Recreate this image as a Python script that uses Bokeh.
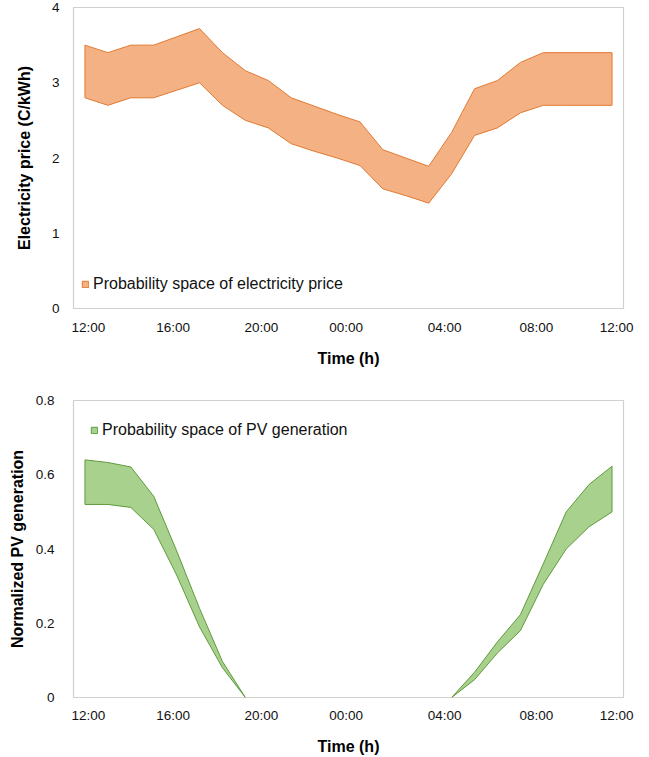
from bokeh.plotting import figure
from bokeh.layouts import column
from bokeh.models import FixedTicker, Range1d
from bokeh.embed import file_html
from bokeh.resources import INLINE

# ---------------- data ----------------
hours = list(range(24))  # 12:00, 13:00, ... 11:00 (next day)

price_upper = [3.50, 3.40, 3.50, 3.50, 3.61, 3.72, 3.40, 3.16, 3.03, 2.80, 2.69, 2.58,
               2.48, 2.11, 2.00, 1.89, 2.34, 2.92, 3.03, 3.27, 3.40, 3.40, 3.40, 3.40]
price_lower = [2.80, 2.70, 2.80, 2.80, 2.90, 3.00, 2.70, 2.50, 2.40, 2.19, 2.09, 2.00,
               1.90, 1.59, 1.50, 1.40, 1.79, 2.30, 2.40, 2.60, 2.70, 2.70, 2.70, 2.70]

pv_upper = [0.640, 0.633, 0.621, 0.542, 0.395, 0.240, 0.097, 0.0, 0.0, 0.0, 0.0, 0.0,
            0.0, 0.0, 0.0, 0.0, 0.0, 0.068, 0.150, 0.223, 0.360, 0.500, 0.574, 0.623]
pv_lower = [0.520, 0.520, 0.512, 0.453, 0.330, 0.190, 0.080, 0.0, 0.0, 0.0, 0.0, 0.0,
            0.0, 0.0, 0.0, 0.0, 0.0, 0.048, 0.120, 0.180, 0.305, 0.400, 0.460, 0.500]

time_tick_hours = [0.15, 3.85, 7.7, 11.4, 15.7, 19.7, 23.2]
time_tick_labels = ["12:00", "16:00", "20:00", "00:00", "04:00", "08:00", "12:00"]

price_ticks = [0, 1, 2, 3, 4]
price_tick_labels = ["0", "1", "2", "3", "4"]
pv_ticks = [0, 0.2, 0.4, 0.6, 0.8]
pv_tick_labels = ["0", "0.2", "0.4", "0.6", "0.8"]

FONT = "Liberation Sans"


def style(p, y_ticks, y_labels, y_title, y_label_standoff, y_title_standoff):
    p.grid.visible = False
    p.outline_line_color = "#D0D0D0"
    p.outline_line_width = 1.2
    p.background_fill_color = "white"
    p.border_fill_color = "white"

    xa = p.xaxis[0]
    xa.ticker = FixedTicker(ticks=time_tick_hours)
    xa.major_label_overrides = {t: l for t, l in zip(time_tick_hours, time_tick_labels)}
    xa.axis_label = "Time (h)"
    xa.major_label_standoff = 11
    xa.axis_label_standoff = 12

    ya = p.yaxis[0]
    ya.ticker = FixedTicker(ticks=y_ticks)
    ya.major_label_overrides = {t: l for t, l in zip(y_ticks, y_labels)}
    ya.axis_label = y_title
    ya.major_label_standoff = y_label_standoff
    ya.axis_label_standoff = y_title_standoff

    for ax in (xa, ya):
        ax.axis_line_color = None
        ax.major_tick_line_color = None
        ax.minor_tick_line_color = None
        ax.major_tick_out = 0
        ax.major_tick_in = 0
        ax.minor_tick_out = 0
        ax.minor_tick_in = 0
        ax.major_label_text_font = FONT
        ax.major_label_text_font_size = "13.5px"
        ax.major_label_text_color = "#111111"
        ax.axis_label_text_font = FONT
        ax.axis_label_text_font_size = "16px"
        ax.axis_label_text_font_style = "bold"
        ax.axis_label_text_color = "#000000"


def style_legend(p, loc):
    lg = p.legend[0]
    lg.location = loc
    lg.background_fill_alpha = 0
    lg.border_line_color = None
    lg.padding = 0
    lg.margin = 0
    lg.spacing = 0
    lg.glyph_width = 8
    lg.glyph_height = 8
    lg.label_standoff = 4
    lg.label_text_font = FONT
    lg.label_text_font_size = "16px"
    lg.label_text_color = "#111111"


# ---------------- top: electricity price ----------------
p1 = figure(width=649, height=375, x_range=Range1d(-0.5, 23.5), y_range=Range1d(0, 4),
            output_backend="svg", toolbar_location=None,
            min_border_left=70, min_border_right=26, min_border_top=7, min_border_bottom=67)
p1.patch(hours + hours[::-1], price_upper + price_lower[::-1],
         fill_color="#F4B183", line_color="#E07A33", line_width=1,
         legend_label="Probability space of electricity price")
style(p1, price_ticks, price_tick_labels, "Electricity price (C/kWh)", 14, 16)
style_legend(p1, (8, 15))

# ---------------- bottom: PV generation ----------------
first_zero = next(i for i, v in enumerate(pv_upper) if v == 0)
last_zero = max(i for i, v in enumerate(pv_upper) if v == 0)
segs = [list(range(0, first_zero + 1)), list(range(last_zero, len(hours)))]
xs = [[hours[i] for i in s] + [hours[i] for i in s[::-1]] for s in segs]
ys = [[pv_upper[i] for i in s] + [pv_lower[i] for i in s[::-1]] for s in segs]

p2 = figure(width=649, height=382, x_range=Range1d(-0.5, 23.5), y_range=Range1d(0, 0.8),
            output_backend="svg", toolbar_location=None,
            min_border_left=73, min_border_right=26, min_border_top=25, min_border_bottom=59)
p2.patches(xs, ys, fill_color="#A9D18E", line_color="#5E9A3C", line_width=1,
           legend_label="Probability space of PV generation")
style(p2, pv_ticks, pv_tick_labels, "Normalized PV generation", 19, 7)
p2.xaxis[0].major_label_standoff = 10
style_legend(p2, (17, 258))

layout = column(p1, p2, spacing=0)
open("out.html", "w").write(file_html(layout, INLINE))
